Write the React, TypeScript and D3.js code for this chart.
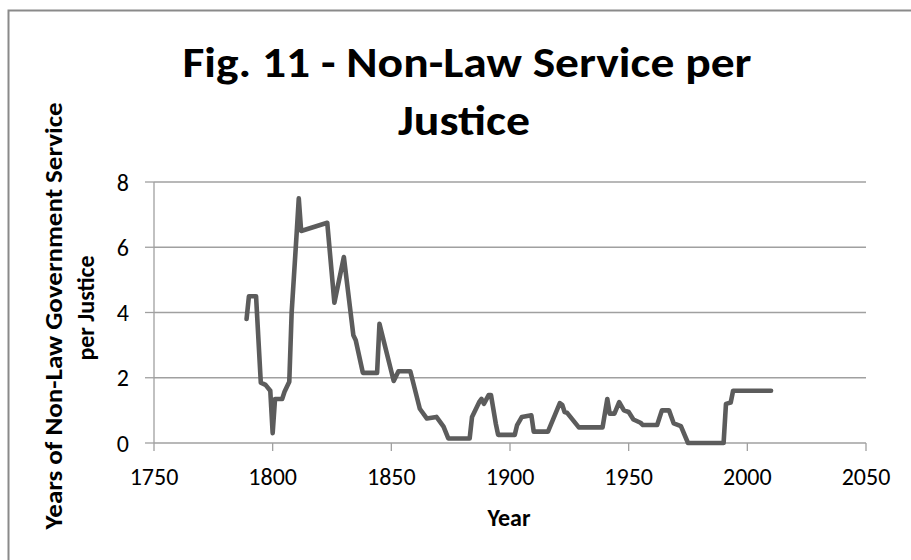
import React from "react";
import * as d3 from "d3";

const years: number[] = [
  1789, 1790, 1793, 1795, 1797, 1799, 1800, 1801, 1804, 1805, 1807, 1808, 1810, 1811, 1812,
  1823, 1826, 1830, 1834, 1835, 1838, 1844, 1845, 1851, 1853, 1858, 1862, 1865, 1869, 1872,
  1874, 1883, 1884, 1887, 1888, 1889, 1891, 1892, 1894, 1895, 1902, 1903, 1905, 1909, 1910,
  1916, 1921, 1922, 1923, 1924, 1929, 1939, 1941, 1942, 1944, 1946, 1948, 1950, 1952, 1955,
  1956, 1962, 1964, 1967, 1969, 1972, 1975, 1990, 1991, 1993, 1994, 2010,
];
const values: number[] = [
  3.8, 4.5, 4.5, 1.85, 1.78, 1.6, 0.3, 1.35, 1.35, 1.57, 1.88, 4.0, 6.3, 7.5, 6.5,
  6.75, 4.3, 5.7, 3.3, 3.15, 2.15, 2.15, 3.65, 1.9, 2.2, 2.2, 1.05, 0.75, 0.8, 0.5,
  0.14, 0.14, 0.8, 1.25, 1.35, 1.2, 1.47, 1.47, 0.6, 0.25, 0.25, 0.55, 0.8, 0.85, 0.35,
  0.35, 1.22, 1.17, 0.95, 0.93, 0.48, 0.48, 1.35, 0.9, 0.9, 1.25, 1.0, 0.95, 0.72, 0.62,
  0.55, 0.55, 1.0, 1.0, 0.6, 0.52, 0.0, 0.0, 1.2, 1.24, 1.6, 1.6,
];
const xTicks: number[] = [1750, 1800, 1850, 1900, 1950, 2000, 2050];
const yTicks: number[] = [0, 2, 4, 6, 8];
const titleLines: string[] = ["Fig. 11 - Non-Law Service per", "Justice"];
const yTitleLines: string[] = ["Years of Non-Law Government Service", "per Justice"];
const xTitle = "Year";

const W = 911;
const H = 560;
const plot = { left: 154, right: 866, top: 182, bottom: 443 };
const FONT = "Carlito, Lato, 'Open Sans', sans-serif";

export default function App() {
  const x = d3.scaleLinear().domain([1750, 2050]).range([plot.left, plot.right]);
  const y = d3.scaleLinear().domain([0, 8]).range([plot.bottom, plot.top]);
  const pts = years.map((yr, i) => [yr, values[i]] as [number, number]);
  const line = d3
    .line<[number, number]>()
    .x((d) => x(d[0]))
    .y((d) => y(d[1]));
  const gridColor = "#a0a0a0";

  return (
    <svg
      width={W}
      height={H}
      style={{ position: "absolute", left: 0, top: 0, background: "#fff" }}
      fontFamily={FONT}
    >
      <rect x={0} y={0} width={W} height={H} fill="#fff" />
      <rect x={8.5} y={10.5} width={1000} height={700} fill="#fff" stroke="#8a8a8a" strokeWidth={2} />

      {/* title */}
      <text x={467} y={77} textAnchor="middle" fontSize={42} fontWeight="bold" fill="#000"
        textLength={569} lengthAdjust="spacingAndGlyphs">
        {titleLines[0]}
      </text>
      <text x={464} y={135} textAnchor="middle" fontSize={42} fontWeight="bold" fill="#000"
        textLength={132} lengthAdjust="spacingAndGlyphs">
        {titleLines[1]}
      </text>

      {/* gridlines */}
      {yTicks.map((t) => (
        <line key={"g" + t} x1={plot.left} x2={plot.right} y1={y(t)} y2={y(t)}
          stroke={gridColor} strokeWidth={1.3} />
      ))}
      {/* y axis */}
      <line x1={plot.left} x2={plot.left} y1={plot.top} y2={plot.bottom} stroke={gridColor} strokeWidth={1.3} />
      {yTicks.map((t) => (
        <g key={"yt" + t}>
          <line x1={plot.left - 9} x2={plot.left} y1={y(t)} y2={y(t)} stroke={gridColor} strokeWidth={1.3} />
          <text x={129} y={y(t) + 8.5} textAnchor="end" fontSize={24} fill="#000">
            {t}
          </text>
        </g>
      ))}
      {/* x axis ticks */}
      {xTicks.map((t) => (
        <g key={"xt" + t}>
          <line x1={x(t)} x2={x(t)} y1={plot.bottom} y2={plot.bottom + 8} stroke={gridColor} strokeWidth={1.3} />
          <text x={x(t)} y={485} textAnchor="middle" fontSize={24} fill="#000">
            {t}
          </text>
        </g>
      ))}

      {/* series */}
      <path d={line(pts) || ""} fill="none" stroke="#5c5c5c" strokeWidth={4.6}
        strokeLinejoin="round" strokeLinecap="round" />

      {/* axis titles */}
      <text x={509} y={526} textAnchor="middle" fontSize={24} fontWeight="bold" fill="#000">
        {xTitle}
      </text>
      <text transform="translate(62,316) rotate(-90)" textAnchor="middle" fontSize={24} fontWeight="bold"
        fill="#000" textLength={427} lengthAdjust="spacingAndGlyphs">
        {yTitleLines[0]}
      </text>
      <text transform="translate(94,308) rotate(-90)" textAnchor="middle" fontSize={24} fontWeight="bold"
        fill="#000">
        {yTitleLines[1]}
      </text>
    </svg>
  );
}
